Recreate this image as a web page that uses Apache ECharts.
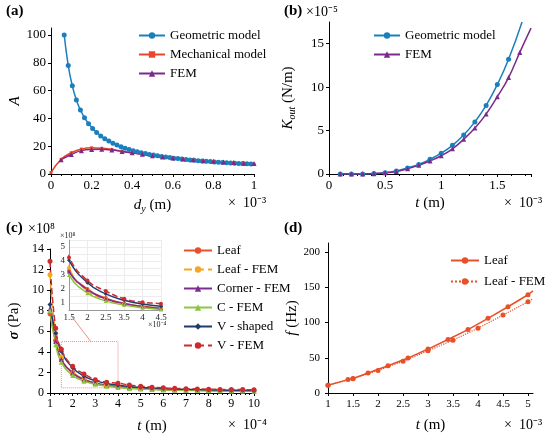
<!DOCTYPE html>
<html>
<head>
<meta charset="utf-8">
<script src="https://cdn.jsdelivr.net/npm/echarts@6.0.0/dist/echarts.min.js"></script>
<style>
  html, body { margin: 0; padding: 0; background: #fff; }
  #chart { width: 550px; height: 436px; }
</style>
</head>
<body>
<div id="chart"></div>
<script>
// (a) amplification A vs d_y (x 1e-3 m)
const geoDy = [0.065, 0.085, 0.105, 0.125, 0.145, 0.165, 0.185, 0.205, 0.225, 0.245, 0.265, 0.285, 0.305, 0.325,
  0.345, 0.365, 0.385, 0.405, 0.425, 0.445, 0.465, 0.485, 0.505, 0.525, 0.545, 0.565, 0.585, 0.605, 0.625, 0.645,
  0.665, 0.685, 0.705, 0.725, 0.745, 0.765, 0.785, 0.805, 0.825, 0.845, 0.865, 0.885, 0.905, 0.925, 0.945, 0.965, 0.985];
const geoA = [100, 78, 63.4, 53.3, 46, 40.5, 36.2, 32.7, 29.8, 27.4, 25.4, 23.7, 22.1, 20.8,
  19.6, 18.6, 17.6, 16.8, 16, 15.3, 14.7, 14.1, 13.6, 13.1, 12.6, 12.2, 11.8, 11.4, 11.1, 10.7,
  10.4, 10.1, 9.9, 9.6, 9.4, 9.1, 8.9, 8.7, 8.5, 8.3, 8.1, 8, 7.8, 7.6, 7.5, 7.3, 7.2];
const mechDy = [0, 0.05, 0.1, 0.15, 0.2, 0.25, 0.3, 0.35, 0.4, 0.45, 0.5, 0.55, 0.6, 0.65, 0.7, 0.75, 0.8, 0.85, 0.9, 0.95, 1];
const mechA = [1, 10.5, 15.3, 17.9, 18.8, 18.5, 17.6, 16.4, 15.2, 14.1, 13, 12.1, 11.3, 10.6, 9.9, 9.3, 8.8, 8.3, 7.9, 7.5, 7.1];
const femDy = [0.05, 0.1, 0.15, 0.2, 0.25, 0.3, 0.35, 0.4, 0.45, 0.5, 0.55, 0.6, 0.65, 0.7, 0.75, 0.8, 0.85, 0.9, 0.95, 1];
const femA = [10.3, 14, 16.8, 17.7, 17.8, 17.2, 16.2, 15.2, 14.2, 13.2, 12.3, 11.5, 10.8, 10.2, 9.6, 9.1, 8.6, 8.2, 7.8, 7.5];

// (b) K_out (x 1e-5 N/m) vs t (x 1e-3 m); last value of each is the line end, no marker
const geoT = [0.1, 0.2, 0.3, 0.4, 0.5, 0.6, 0.7, 0.8, 0.9, 1, 1.1, 1.2, 1.3, 1.4, 1.5, 1.6, 1.72];
const geoK = [0, 0, 0.01, 0.05, 0.15, 0.35, 0.7, 1.1, 1.7, 2.4, 3.3, 4.5, 6, 7.9, 10.3, 13.2, 17.5];
const femT = [0.1, 0.2, 0.3, 0.4, 0.5, 0.6, 0.7, 0.8, 0.9, 1, 1.1, 1.2, 1.3, 1.4, 1.5, 1.6, 1.7, 1.8];
const femK = [0, 0, 0.01, 0.04, 0.13, 0.3, 0.6, 1, 1.5, 2.1, 2.9, 4, 5.3, 6.9, 8.9, 11.1, 14, 16.8];

// (c) sigma (x 1e8 Pa) vs t (x 1e-4 m)
const cT = [1, 1.25, 1.5, 2, 2.5, 3, 3.5, 4, 4.5, 5, 5.5, 6, 6.5, 7, 7.5, 8, 8.5, 9, 9.5, 10];
const leafS = [7.7, 5.1, 3.3, 2, 1.35, 0.98, 0.76, 0.62, 0.52, 0.45, 0.4, 0.36, 0.33, 0.3, 0.28, 0.26, 0.24, 0.23, 0.22, 0.21];
const leafFemS = [11.5, 5.8, 3.5, 1.85, 1.25, 0.92, 0.72, 0.58, 0.49, 0.42, 0.37, 0.33, 0.3, 0.28, 0.26, 0.24, 0.22, 0.21, 0.2, 0.19];
const cornerS = [8.2, 5, 3.25, 1.95, 1.3, 0.95, 0.74, 0.6, 0.5, 0.43, 0.38, 0.34, 0.31, 0.29, 0.27, 0.25, 0.23, 0.22, 0.21, 0.2];
const cFemS = [8, 4.7, 3, 1.7, 1.15, 0.85, 0.66, 0.53, 0.44, 0.38, 0.34, 0.3, 0.28, 0.26, 0.24, 0.22, 0.21, 0.2, 0.19, 0.18];
const vShapedS = [8.6, 5.8, 4.05, 2.45, 1.65, 1.2, 0.93, 0.76, 0.64, 0.55, 0.48, 0.43, 0.39, 0.36, 0.33, 0.31, 0.29, 0.27, 0.26, 0.25];
const vFemS = [12.8, 6.3, 4.25, 2.6, 1.85, 1.3, 1.05, 0.95, 0.78, 0.66, 0.57, 0.5, 0.45, 0.42, 0.39, 0.37, 0.35, 0.34, 0.33, 0.32];
const insetXLabels = ['1.5', '2', '2.5', '3.5', '4', '4.5'];

// (d) f (Hz) vs t (x 1e-3 m); last value is the line end, no marker
const leafT = [1, 1.4, 1.5, 1.8, 2.2, 2.6, 3, 3.4, 3.8, 4.2, 4.6, 5, 5.1];
const leafF = [11, 19, 20.5, 28.5, 38.8, 49.6, 62.4, 76, 90, 106, 122.5, 139.5, 145];
const leafFemT = [1, 1.5, 2, 2.5, 3, 3.5, 4, 4.5, 5, 5.1];
const leafFemF = [11, 20.3, 32, 45, 60, 75, 92, 110.6, 129.6, 134];

const FONT = 'Liberation Serif';
const chart = echarts.init(document.getElementById('chart'));

function pairs(xs, ys, openEnd) {
  return xs.map(function (x, i) {
    if (openEnd && i === xs.length - 1) return { value: [x, ys[i]], symbol: 'none' };
    return [x, ys[i]];
  });
}

function axis(grid, min, max, interval, extra) {
  return Object.assign({
    type: 'value', gridIndex: grid, min: min, max: max, interval: interval,
    axisLine: { show: true, lineStyle: { color: '#000', width: 1 } },
    axisTick: { show: true, length: 3, lineStyle: { color: '#000' } },
    minorTick: { show: true, splitNumber: 4, length: 2, lineStyle: { color: '#000' } },
    splitLine: { show: false },
    axisLabel: { color: '#000', fontFamily: FONT, fontSize: 13, margin: 5, showMaxLabel: false }
  }, extra || {});
}

function line(name, x, y, data, color, symbol, opts) {
  return Object.assign({
    name: name, type: 'line', xAxisIndex: x, yAxisIndex: y, data: data,
    smooth: true, symbol: symbol, symbolSize: 5, showSymbol: true,
    lineStyle: { color: color, width: 1.5 },
    itemStyle: { color: color }
  }, opts || {});
}

const rich = {
  i: { fontFamily: FONT, fontSize: 15, fontStyle: 'italic', color: '#000' },
  b: { fontFamily: FONT, fontSize: 15, fontStyle: 'italic', fontWeight: 'bold', color: '#000' },
  n: { fontFamily: FONT, fontSize: 15, color: '#000' },
  s: { fontFamily: FONT, fontSize: 10, fontStyle: 'italic', color: '#000', verticalAlign: 'bottom', padding: [8, 0, 0, 0] }
};

const cBlue = '#1b7fbd', cRed = '#e8462a', cPurple = '#7b2a8c';
const cLeaf = '#e8502a', cLeafFem = '#f5a623', cCorner = '#7d2d90', cC = '#8cc641', cV = '#1f3d6c', cVFem = '#cc2b2f';

function legendText() {
  return { fontFamily: FONT, fontSize: 13, color: '#000' };
}

option = {
  backgroundColor: '#fff',
  animation: false,
  grid: [
    { left: 51, top: 28, width: 203, height: 146 },
    { left: 329, top: 22, width: 202, height: 152 },
    { left: 50, top: 249, width: 204, height: 144 },
    { left: 328, top: 243, width: 205, height: 150 },
    { left: 69, top: 240, width: 92, height: 70 }
  ],
  xAxis: [
    axis(0, 0, 1, 0.2, { name: '{i|d}{s|y}{n| (m)}', nameLocation: 'middle', nameGap: 22, nameTextStyle: { rich: rich },
      axisLabel: { color: '#000', fontFamily: FONT, fontSize: 13, margin: 5 } }),
    axis(1, 0, 1.8, 0.5, { name: '{i|t}{n| (m)}', nameLocation: 'middle', nameGap: 22, nameTextStyle: { rich: rich } }),
    axis(2, 1, 10, 1, { name: '{i|t}{n| (m)}', nameLocation: 'middle', nameGap: 26, nameTextStyle: { rich: rich },
      minorTick: { show: true, splitNumber: 5, length: 2, lineStyle: { color: '#000' } },
      axisLabel: { color: '#000', fontFamily: FONT, fontSize: 12, margin: 5 } }),
    axis(3, 1, 5.1, 0.5, { name: '{i|t}{n| (m)}', nameLocation: 'middle', nameGap: 25, nameTextStyle: { rich: rich },
      minorTick: { show: false },
      axisLabel: { color: '#000', fontFamily: FONT, fontSize: 11, margin: 6, showMaxLabel: false } }),
    axis(4, 1.5, 4, 0.5, {
      axisLine: { show: true, lineStyle: { color: '#999', width: 1 } },
      axisTick: { show: false }, minorTick: { show: false },
      splitLine: { show: true, lineStyle: { color: '#ececec', width: 1 } },
      axisLabel: { color: '#222', fontFamily: FONT, fontSize: 9, margin: 3,
        formatter: function (v) { return insetXLabels[Math.round((v - 1.5) / 0.5)] || ''; } }
    })
  ],
  yAxis: [
    axis(0, 0, 105, 20, { name: '{i|A}', nameLocation: 'middle', nameGap: 26, nameTextStyle: { rich: rich },
      minorTick: { show: false } }),
    axis(1, 0, 17.5, 5, { name: '{i|K}{s|out}{n| (N/m)}', nameLocation: 'middle', nameGap: 32, nameTextStyle: { rich: rich },
      minorTick: { show: false } }),
    axis(2, 0, 14, 2, { name: '{b|σ}{n| (Pa)}', nameLocation: 'middle', nameGap: 28, nameTextStyle: { rich: rich },
      minorTick: { show: false }, axisLabel: { color: '#000', fontFamily: FONT, fontSize: 12, margin: 6 } }),
    axis(3, 0, 213, 50, { name: '{i|f}{n| (Hz)}', nameLocation: 'middle', nameGap: 26, nameTextStyle: { rich: rich },
      minorTick: { show: false }, axisLabel: { color: '#000', fontFamily: FONT, fontSize: 11, margin: 8, showMaxLabel: false } }),
    axis(4, 0.5, 5.5, 0.5, {
      axisLine: { show: true, lineStyle: { color: '#999', width: 1 } },
      axisTick: { show: false }, minorTick: { show: false },
      splitLine: { show: true, lineStyle: { color: '#ececec', width: 1 } },
      axisLabel: { color: '#222', fontFamily: FONT, fontSize: 9, margin: 4,
        formatter: function (v) { return Math.abs(v - Math.round(v)) < 1e-6 ? String(Math.round(v)) : ''; } }
    })
  ],
  legend: [
    { left: 133, top: 24, orient: 'vertical', itemWidth: 26, itemHeight: 8, itemGap: 6, textStyle: legendText(),
      data: ['Geometric model', 'Mechanical model', 'FEM'] },
    { left: 368, top: 24, orient: 'vertical', itemWidth: 26, itemHeight: 8, itemGap: 6, textStyle: legendText(),
      data: [{ name: 'Geometric model' }, { name: 'FEM' }] },
    { left: 178, top: 239, orient: 'vertical', itemWidth: 28, itemHeight: 8, itemGap: 6, textStyle: legendText(),
      data: [
        { name: 'Leaf', itemStyle: { color: cLeaf }, lineStyle: { color: cLeaf, type: 'solid' } },
        { name: 'Leaf - FEM', itemStyle: { color: cLeafFem }, lineStyle: { color: cLeafFem, type: 'dashed' } },
        'Corner - FEM', 'C - FEM', 'V - shaped', 'V - FEM'] },
    { left: 445, top: 249, orient: 'vertical', itemWidth: 28, itemHeight: 8, itemGap: 8, textStyle: legendText(),
      data: [
        { name: 'Leaf', itemStyle: { color: cLeaf }, lineStyle: { color: cLeaf, type: 'solid' } },
        { name: 'Leaf - FEM', itemStyle: { color: cLeaf }, lineStyle: { color: cLeaf, type: 'dotted' } }] }
  ],
  graphic: [
    { type: 'text', left: 6, top: 4, style: { text: '(a)', font: 'bold 15px "Liberation Serif"', fill: '#000' } },
    { type: 'text', left: 284, top: 4, style: { text: '(b)', font: 'bold 15px "Liberation Serif"', fill: '#000' } },
    { type: 'text', left: 306, top: 5, style: { text: '×10⁻⁵', font: '14px "Liberation Serif"', fill: '#000' } },
    { type: 'text', left: 6, top: 221, style: { text: '(c)', font: 'bold 15px "Liberation Serif"', fill: '#000' } },
    { type: 'text', left: 28, top: 222, style: { text: '×10⁸', font: '14px "Liberation Serif"', fill: '#000' } },
    { type: 'text', left: 284, top: 221, style: { text: '(d)', font: 'bold 15px "Liberation Serif"', fill: '#000' } },
    { type: 'text', left: 228, top: 196, style: { text: '×  10⁻³', font: '14px "Liberation Serif"', fill: '#000' } },
    { type: 'text', left: 504, top: 196, style: { text: '×  10⁻³', font: '14px "Liberation Serif"', fill: '#000' } },
    { type: 'text', left: 228, top: 418, style: { text: '×  10⁻⁴', font: '14px "Liberation Serif"', fill: '#000' } },
    { type: 'text', left: 504, top: 418, style: { text: '×  10⁻³', font: '14px "Liberation Serif"', fill: '#000' } },
    { type: 'text', left: 60, top: 232, style: { text: '×10⁸', font: '8px "Liberation Serif"', fill: '#222' } },
    { type: 'text', left: 148, top: 321, style: { text: '×10⁻⁴', font: '8px "Liberation Serif"', fill: '#222' } }
  ],
  series: [
    // (a)
    line('Geometric model', 0, 0, pairs(geoDy, geoA), cBlue, 'circle'),
    line('Mechanical model', 0, 0, pairs(mechDy, mechA), cRed, 'rect', { symbolSize: 3 }),
    line('FEM', 0, 0, pairs(femDy, femA), cPurple, 'triangle'),
    // (b)
    line('Geometric model', 1, 1, pairs(geoT, geoK, true), cBlue, 'circle'),
    line('FEM', 1, 1, pairs(femT, femK, true), cPurple, 'triangle'),
    // (c) main
    line('Leaf', 2, 2, pairs(cT, leafS), cLeaf, 'circle', {
      markArea: { silent: true, itemStyle: { color: 'rgba(0,0,0,0)', borderColor: '#f08a8a', borderWidth: 1, borderType: 'dotted' },
        data: [[{ coord: [1.5, 0.5] }, { coord: [4, 5] }]] },
      markLine: { silent: true, symbol: 'none', label: { show: false }, lineStyle: { color: '#f08a8a', type: 'solid', width: 1 },
        data: [[{ coord: [2.8, 5] }, { coord: [1.97, 7.4] }]] }
    }),
    line('Leaf - FEM', 2, 2, pairs(cT, leafFemS), cLeafFem, 'circle', { lineStyle: { color: cLeafFem, width: 1.5, type: 'dashed' } }),
    line('Corner - FEM', 2, 2, pairs(cT, cornerS), cCorner, 'triangle'),
    line('C - FEM', 2, 2, pairs(cT, cFemS), cC, 'triangle'),
    line('V - shaped', 2, 2, pairs(cT, vShapedS), cV, 'diamond'),
    line('V - FEM', 2, 2, pairs(cT, vFemS), cVFem, 'circle', { lineStyle: { color: cVFem, width: 1.5, type: 'dashed' } }),
    // (c) inset
    line('Leaf', 4, 4, pairs(cT, leafS), cLeaf, 'circle', { symbolSize: 4 }),
    line('Leaf - FEM', 4, 4, pairs(cT, leafFemS), cLeafFem, 'circle', { symbolSize: 4, lineStyle: { color: cLeafFem, width: 1.5, type: 'dashed' } }),
    line('Corner - FEM', 4, 4, pairs(cT, cornerS), cCorner, 'triangle', { symbolSize: 4 }),
    line('C - FEM', 4, 4, pairs(cT, cFemS), cC, 'triangle', { symbolSize: 4 }),
    line('V - shaped', 4, 4, pairs(cT, vShapedS), cV, 'diamond', { symbolSize: 4 }),
    line('V - FEM', 4, 4, pairs(cT, vFemS), cVFem, 'circle', { symbolSize: 4, lineStyle: { color: cVFem, width: 1.5, type: 'dashed' } }),
    // (d)
    line('Leaf', 3, 3, pairs(leafT, leafF, true), cLeaf, 'circle', { smooth: false }),
    line('Leaf - FEM', 3, 3, pairs(leafFemT, leafFemF, true), cLeaf, 'circle', { smooth: false, lineStyle: { color: cLeaf, width: 1.2, type: 'dotted' } })
  ]
};

chart.setOption(option);
</script>
</body>
</html>
